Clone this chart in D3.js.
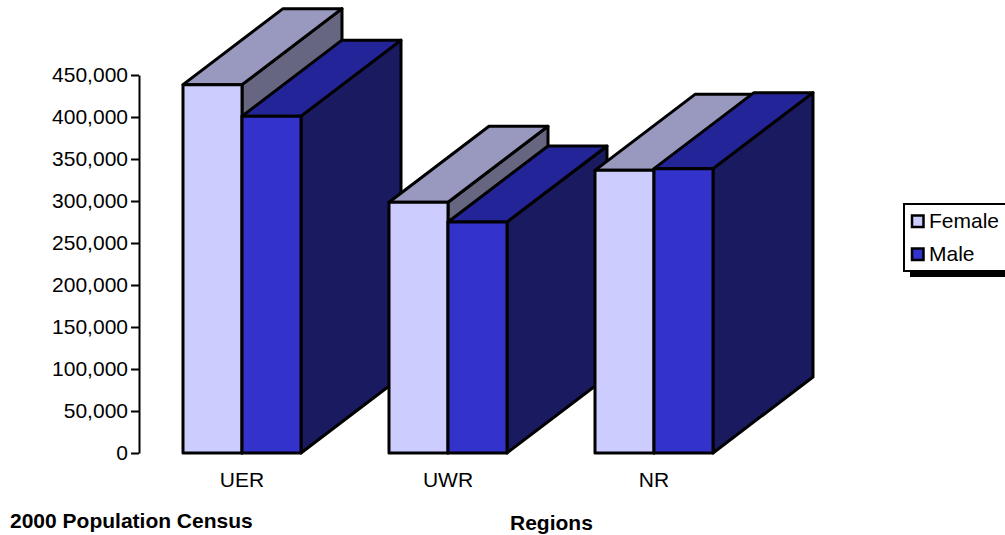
<!DOCTYPE html>
<html>
<head>
<meta charset="utf-8">
<script src="https://cdn.jsdelivr.net/npm/d3@7"></script>
<style>
    html, body { margin: 0; padding: 0; background: #fff; overflow: hidden; }
    text { font-family: "Liberation Sans", Arial, sans-serif; fill: #000; }
</style>
</head>
<body>
<svg id="chart" width="1005" height="535"></svg>
<script>
// values
var regions = ["UER", "UWR", "NR"];
var seriesNames = ["Female", "Male"];
var femaleValues = [438500, 298500, 336500];
var maleValues = [401000, 275000, 338500];
var yTicks = [0, 50000, 100000, 150000, 200000, 250000, 300000, 350000, 400000, 450000];

var colors = {
    Female: { front: "#ccccff", top: "#9999bf", side: "#666680" },
    Male: { front: "#3333cc", top: "#242499", side: "#1a1a60" }
};

var depthX = 100, depthY = 76;
var fontSize = 21;
var svg = d3.select("#chart");

var y = d3.scaleLinear().domain([0, 450000]).range([453, 75]);
var x = d3.scaleBand().domain(regions).range([139, 757]);
var inner = d3.scaleBand().domain(seriesNames).range([-59, 59]);

// y axis
var axis = svg.append("g")
    .attr("transform", "translate(139,0)")
    .call(d3.axisLeft(y)
        .tickValues(yTicks)
        .tickSize(8)
        .tickSizeOuter(0)
        .tickPadding(3)
        .tickFormat(d3.format(",")));

axis.select("path").attr("stroke", "#000").attr("stroke-width", 2);
axis.selectAll("line").attr("stroke", "#000").attr("stroke-width", 2);
axis.selectAll("text")
    .attr("font-size", fontSize)
    .attr("font-family", "Liberation Sans")
    .attr("fill", "#000");

// flatten so the boxes paint back to front, left to right
var boxes = [];
regions.forEach(function (r, i) {
    boxes.push({ region: r, name: "Female", value: femaleValues[i] });
    boxes.push({ region: r, name: "Male", value: maleValues[i] });
});

var groups = svg.selectAll("g.box")
    .data(boxes)
    .enter()
    .append("g")
    .attr("class", "box")
    .attr("stroke", "#000")
    .attr("stroke-width", 3)
    .attr("stroke-linejoin", "round");

function corners (d) {
    var cx = x(d.region) + x.bandwidth() / 2;
    return {
        x0: cx + inner(d.name),
        x1: cx + inner(d.name) + inner.bandwidth(),
        yTop: y(d.value),
        yBase: y(0)
    };
}

// side face
groups.append("path")
    .attr("fill", function (d) { return colors[d.name].side; })
    .attr("d", function (d) {
        var c = corners(d);
        return "M" + c.x1 + "," + c.yTop +
            "L" + (c.x1 + depthX) + "," + (c.yTop - depthY) +
            "L" + (c.x1 + depthX) + "," + (c.yBase - depthY) +
            "L" + c.x1 + "," + c.yBase + "Z";
    });

// top face
groups.append("path")
    .attr("fill", function (d) { return colors[d.name].top; })
    .attr("d", function (d) {
        var c = corners(d);
        return "M" + c.x0 + "," + c.yTop +
            "L" + (c.x0 + depthX) + "," + (c.yTop - depthY) +
            "L" + (c.x1 + depthX) + "," + (c.yTop - depthY) +
            "L" + c.x1 + "," + c.yTop + "Z";
    });

// front face
groups.append("rect")
    .attr("fill", function (d) { return colors[d.name].front; })
    .attr("x", function (d) { return corners(d).x0; })
    .attr("y", function (d) { return corners(d).yTop; })
    .attr("width", inner.bandwidth())
    .attr("height", function (d) { return y(0) - y(d.value); });

// category labels
svg.selectAll("text.region")
    .data(regions)
    .enter()
    .append("text")
    .attr("class", "region")
    .attr("x", function (d) { return x(d) + x.bandwidth() / 2; })
    .attr("y", 487)
    .attr("text-anchor", "middle")
    .attr("font-size", fontSize)
    .text(function (d) { return d; });

// bottom captions
svg.append("text")
    .attr("x", 10)
    .attr("y", 528)
    .attr("font-size", fontSize)
    .attr("font-weight", "bold")
    .text("2000 Population Census");

svg.append("text")
    .attr("x", 510)
    .attr("y", 530)
    .attr("font-size", fontSize)
    .attr("font-weight", "bold")
    .text("Regions");

// legend
svg.append("rect")
    .attr("x", 910).attr("y", 210)
    .attr("width", 100).attr("height", 67)
    .attr("fill", "#000");

svg.append("rect")
    .attr("x", 904).attr("y", 204)
    .attr("width", 106).attr("height", 67)
    .attr("fill", "#fff")
    .attr("stroke", "#000")
    .attr("stroke-width", 2);

var legendItems = svg.selectAll("g.legend-item")
    .data(seriesNames)
    .enter()
    .append("g")
    .attr("class", "legend-item")
    .attr("transform", function (d, i) { return "translate(0," + (221 + i * 33) + ")"; });

legendItems.append("rect")
    .attr("x", 912).attr("y", -5.5)
    .attr("width", 11.5).attr("height", 11.5)
    .attr("fill", function (d) { return colors[d].front; })
    .attr("stroke", "#000")
    .attr("stroke-width", 2.5);

legendItems.append("text")
    .attr("x", 929)
    .attr("y", 7)
    .attr("font-size", fontSize)
    .text(function (d) { return d; });
</script>
</body>
</html>
